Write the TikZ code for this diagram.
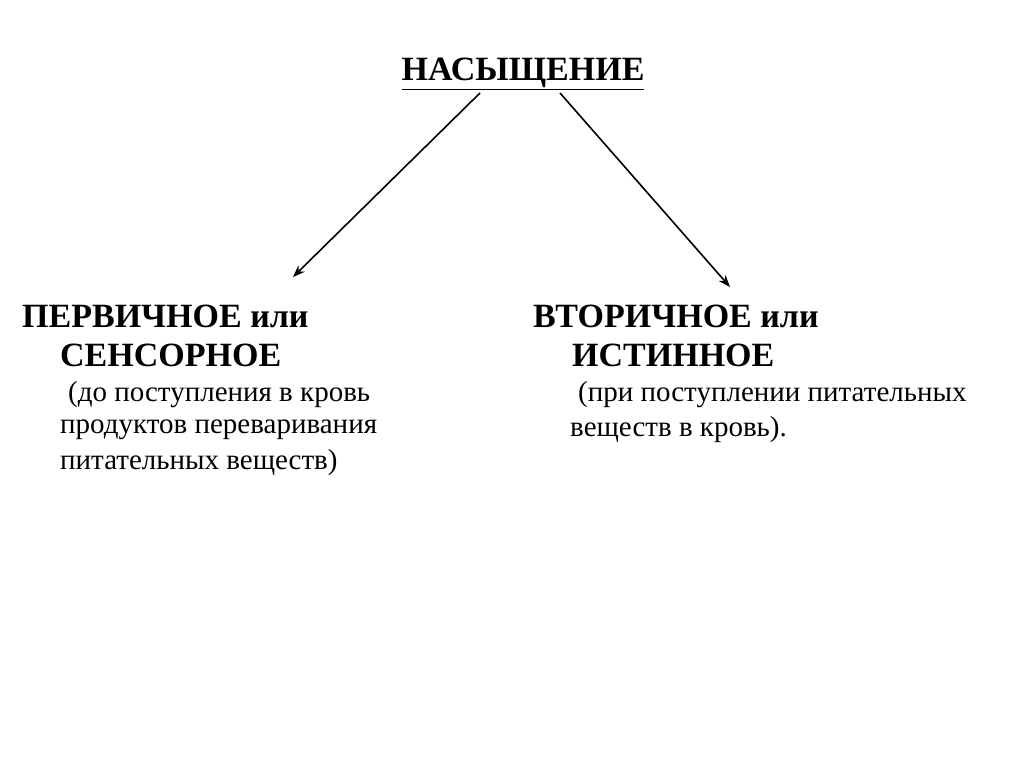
\documentclass[tikz,border=0pt]{standalone}
\usepackage{fontspec}
\setmainfont{Liberation Serif}
\usetikzlibrary{arrows.meta}
\begin{document}
\begin{tikzpicture}[x=1pt,y=-1pt,
  big/.style={anchor=west,inner sep=0pt,font=\fontsize{34}{38}\selectfont\bfseries},
  small/.style={anchor=west,inner sep=0pt,font=\fontsize{29}{32}\selectfont},
  arr/.style={-{Stealth[length=12pt,width=9pt]},line width=1.6pt}]
\useasboundingbox[fill=white] (0,0) rectangle (1024,767);
\node[inner sep=0pt,font=\fontsize{34}{38}\selectfont\bfseries] (t) at (523,74) {\underline{НАСЫЩЕНИЕ}};
\coordinate (ls) at (480,93); \coordinate (le) at (293,277);
\coordinate (rs) at (560,93); \coordinate (re) at (730,287);
\draw[arr] (ls) -- (le);
\draw[arr] (rs) -- (re);
\node[big] (l1) at (22,316) {ПЕРВИЧНОЕ или};
\node[big] (l2) at (60,355) {СЕНСОРНОЕ};
\node[small] (l3) at (68,395) {(до поступления в кровь};
\node[small] (l4) at (60,430) {продуктов переваривания};
\node[small] (l5) at (60,463) {питательных веществ)};
\node[big] (r1) at (533,316) {ВТОРИЧНОЕ или};
\node[big] (r2) at (572,355) {ИСТИННОЕ};
\node[small] (r3) at (578,395) {(при поступлении питательных};
\node[small] (r4) at (570,430) {веществ в кровь).};
\end{tikzpicture}
\end{document}
